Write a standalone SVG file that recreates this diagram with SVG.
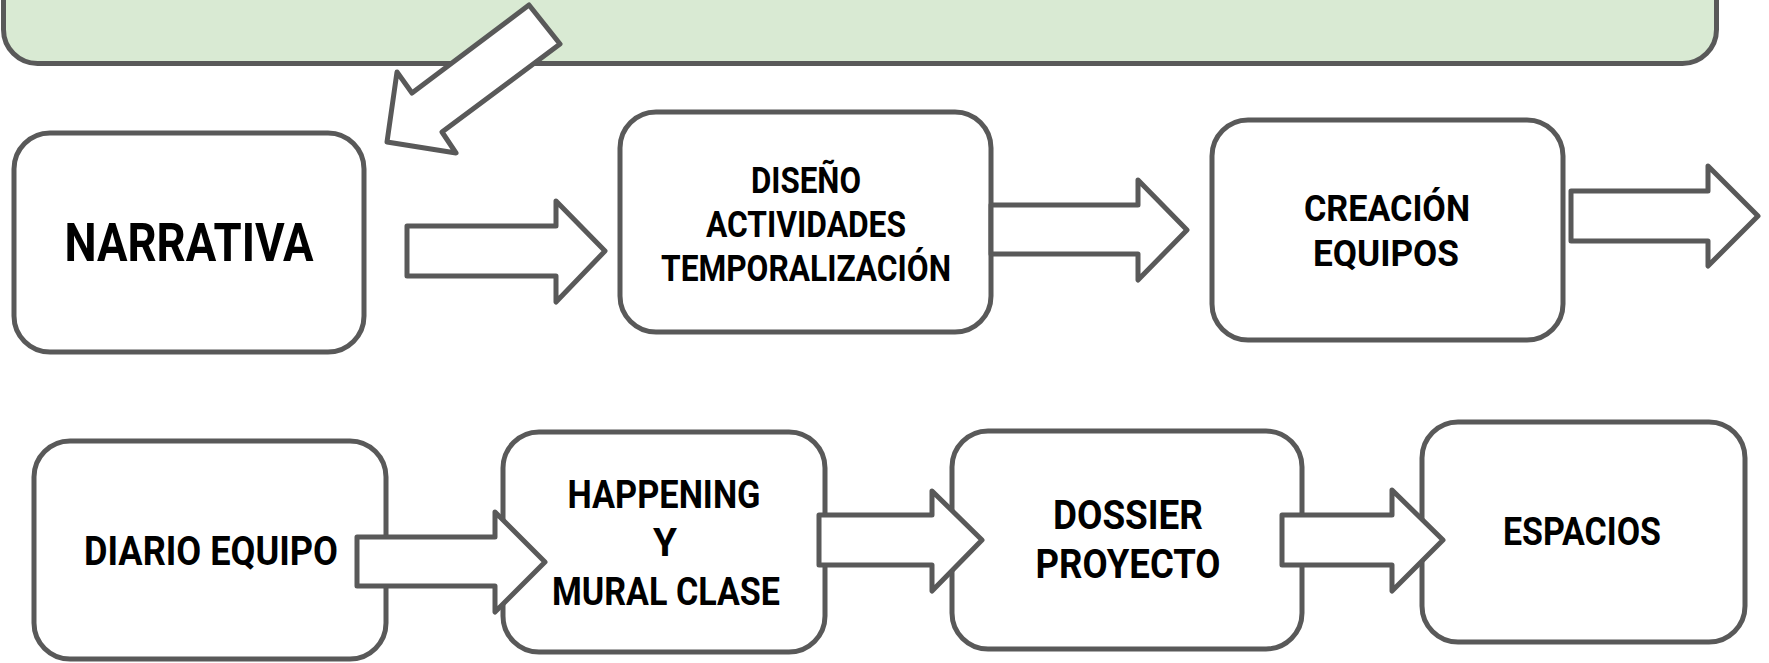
<svg xmlns="http://www.w3.org/2000/svg" width="1769" height="663" viewBox="0 0 1769 663">
  <style>
    .box { fill: #ffffff; stroke: #595959; stroke-width: 5; }
    .banner { fill: #d9ead3; stroke: #595959; stroke-width: 5; }
    .arrow { fill: #ffffff; stroke: #595959; stroke-width: 5; stroke-linejoin: round; }
    .lbl { font-family: Roboto, "Liberation Sans", sans-serif; font-weight: 700; fill: #000000; text-anchor: middle; }
  </style>

  <rect width="1769" height="663" fill="#ffffff"/>

  <!-- green banner across the top -->
  <g id="banner">
    <rect class="banner" x="3.5" y="-40" width="1713" height="103.5" rx="34" ry="34"/>
  </g>

  <g id="narrativa">
    <rect class="box" x="14" y="133" width="350" height="219" rx="36" ry="36"/>
    <text class="lbl" x="189" y="261" font-size="53" textLength="249" lengthAdjust="spacingAndGlyphs">NARRATIVA</text>
  </g>

  <g id="diseno">
    <rect class="box" x="620" y="112" width="371" height="220" rx="36" ry="36"/>
    <text class="lbl" x="806" y="193" font-size="36" textLength="110" lengthAdjust="spacingAndGlyphs">DISEÑO</text>
    <text class="lbl" x="806" y="237" font-size="36" textLength="200" lengthAdjust="spacingAndGlyphs">ACTIVIDADES</text>
    <text class="lbl" x="806" y="281" font-size="36" textLength="290" lengthAdjust="spacingAndGlyphs">TEMPORALIZACIÓN</text>
  </g>

  <g id="creacion">
    <rect class="box" x="1212" y="120" width="351" height="220" rx="36" ry="36"/>
    <text class="lbl" x="1387" y="221" font-size="37" textLength="166" lengthAdjust="spacingAndGlyphs">CREACIÓN</text>
    <text class="lbl" x="1386" y="266" font-size="37" textLength="146" lengthAdjust="spacingAndGlyphs">EQUIPOS</text>
  </g>

  <g id="diario">
    <rect class="box" x="34" y="441" width="352" height="218" rx="36" ry="36"/>
    <text class="lbl" x="211" y="565" font-size="40" textLength="254" lengthAdjust="spacingAndGlyphs">DIARIO EQUIPO</text>
  </g>

  <g id="happening">
    <rect class="box" x="503" y="432" width="322" height="220" rx="36" ry="36"/>
    <text class="lbl" x="664" y="508" font-size="39" textLength="193" lengthAdjust="spacingAndGlyphs">HAPPENING</text>
    <text class="lbl" x="665" y="556" font-size="39" textLength="24" lengthAdjust="spacingAndGlyphs">Y</text>
    <text class="lbl" x="666" y="605" font-size="39" textLength="228" lengthAdjust="spacingAndGlyphs">MURAL CLASE</text>
  </g>

  <g id="dossier">
    <rect class="box" x="952" y="431" width="350" height="218" rx="36" ry="36"/>
    <text class="lbl" x="1128" y="529" font-size="40" textLength="150" lengthAdjust="spacingAndGlyphs">DOSSIER</text>
    <text class="lbl" x="1128" y="578" font-size="40" textLength="185" lengthAdjust="spacingAndGlyphs">PROYECTO</text>
  </g>

  <g id="espacios">
    <rect class="box" x="1422" y="422" width="323" height="220" rx="36" ry="36"/>
    <text class="lbl" x="1582" y="545" font-size="39" textLength="158" lengthAdjust="spacingAndGlyphs">ESPACIOS</text>
  </g>

  <!-- block arrows linking the steps -->
  <g id="connectors">
    <polygon class="arrow" points="529,5 560,44 442,132 456,153 387,142 397,72 412,93"/>
    <polygon class="arrow" points="407,226 556,226 556,201 605,251 556,302 556,276 407,276"/>
    <polygon class="arrow" points="991,205 1138,205 1138,180 1187,230 1138,280 1138,254 991,254"/>
    <polygon class="arrow" points="1571,191 1708,191 1708,166 1758,216 1708,266 1708,241 1571,241"/>
    <polygon class="arrow" points="357,537 495,537 495,512 545,562 495,612 495,586 357,586"/>
    <polygon class="arrow" points="819,515 932,515 932,491 982,540 932,591 932,565 819,565"/>
    <polygon class="arrow" points="1282,515 1392,515 1392,490 1443,540 1392,591 1392,565 1282,565"/>
  </g>
</svg>
